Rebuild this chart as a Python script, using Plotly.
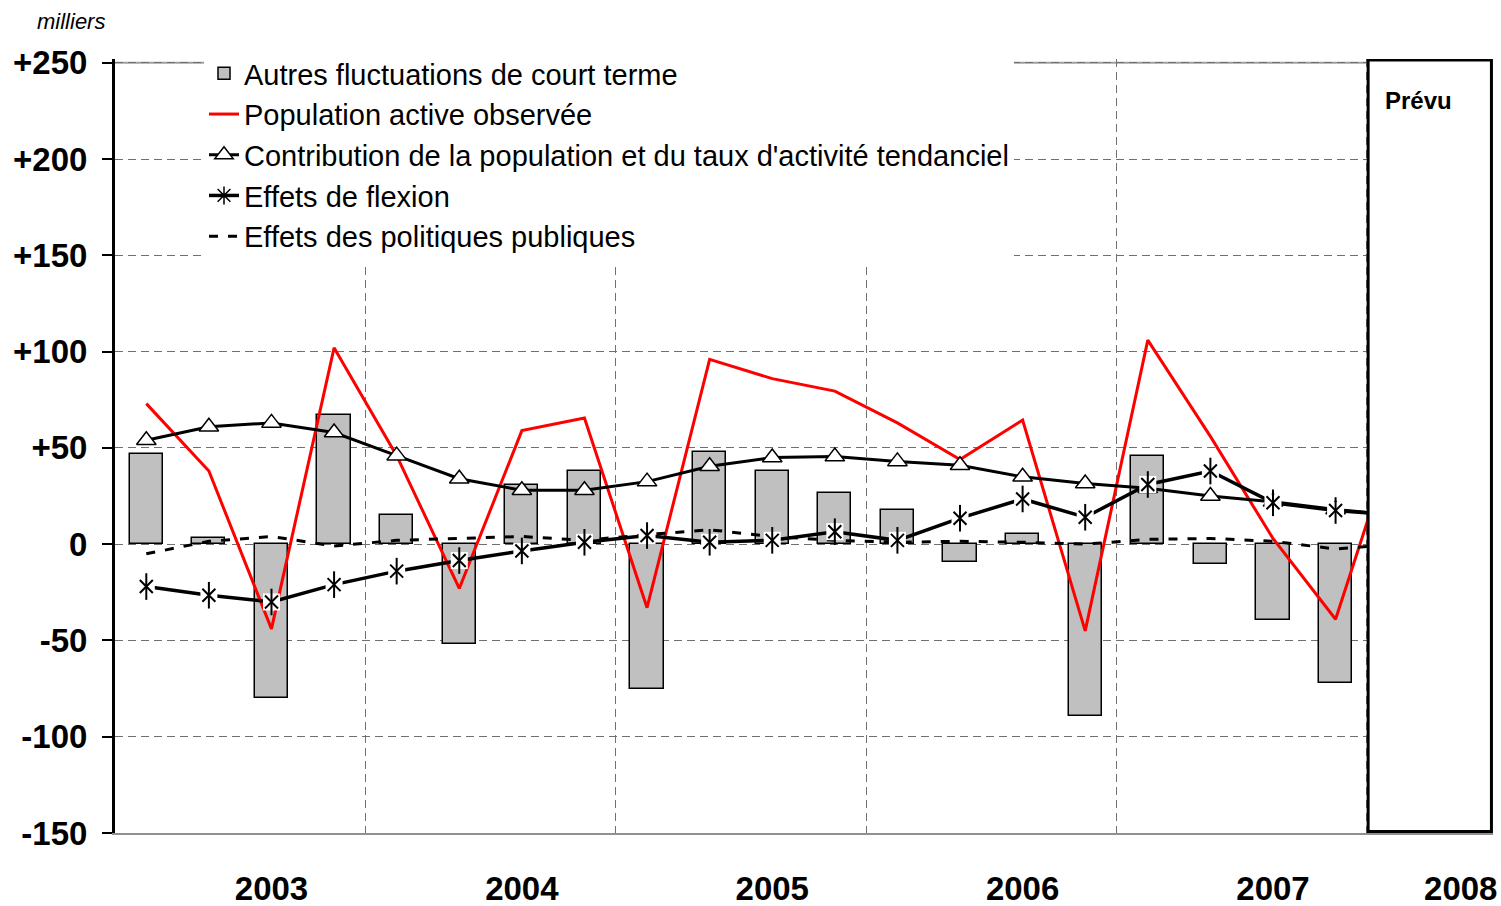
import plotly.graph_objects as go

quarters = ["2003T1", "2003T2", "2003T3", "2003T4",
            "2004T1", "2004T2", "2004T3", "2004T4",
            "2005T1", "2005T2", "2005T3", "2005T4",
            "2006T1", "2006T2", "2006T3", "2006T4",
            "2007T1", "2007T2", "2007T3", "2007T4",
            "2008T1"]

autres = [47, 3, -80, 67, 15, -52, 31, 38, -75, 48, 38, 26.5, 18, -9.5, 5.5, -89,
          46, -10.5, -39.5, -72, None]
observee = [73, 38, -44, 102, 46, -23, 59, 65.5, -33, 96, 86, 79.5, 63, 44, 64.5, -45,
            106, 56, 3, -39, 61]
contribution = [54, 61, 63, 58, 46, 34, 28, 28, 32.5, 40.5, 45, 45.5, 43, 41, 35, 31.5,
                29, 25, 22, 18, 15]
flexion = [-22, -26.5, -30, -21, -14, -8.5, -3.5, 1, 4.5, 1, 2, 6.5, 2, 13.5, 23.5, 14,
           31, 38, 21.5, 17.5, 15]
politiques = [-5, 1.5, 4, -1, 2, 3, 4, 2, 5, 7.5, 4, 2, 1, 1.5, 1, 0, 2.5, 3, 1.5, -2.5, 0]

year_labels = ["2003", "2004", "2005", "2006", "2007", "2008"]
year_label_pos = [2, 6, 10, 14, 18, 21]
y_ticks = [-150, -100, -50, 0, 50, 100, 150, 200, 250]
y_ticktext = ["-150", "-100", "-50", "0", "+50", "+100", "+150", "+200", "+250"]

x = list(range(len(quarters)))
FONT = "Liberation Sans, Arial, sans-serif"

W, H = 1501, 906
ML, MR, MT, MB = 115, 8, 59, 73
plot_w = W - ML - MR
plot_h = H - MT - MB
bottom = H - MB

fig = go.Figure()

fig.add_trace(go.Bar(
    x=x, y=autres, name="Autres fluctuations de court terme",
    marker=dict(color="#C0C0C0", line=dict(color="black", width=1.5)),
    width=0.53, legendrank=1, customdata=quarters))

fig.add_trace(go.Scatter(
    x=x, y=observee, mode="lines", name="Population active observée",
    line=dict(color="#FF0000", width=3), legendrank=2))

fig.add_trace(go.Scatter(
    x=x, y=politiques, mode="lines", name="Effets des politiques publiques",
    line=dict(color="black", width=3, dash="9px,10px"), legendrank=5))

fig.add_trace(go.Scatter(
    x=x, y=contribution, mode="lines+markers",
    name="Contribution de la population et du taux d'activité tendanciel",
    line=dict(color="black", width=3),
    marker=dict(symbol="triangle-up", size=17, color="white",
                line=dict(color="black", width=1.5)),
    legendrank=3))

# flexion: line, white background squares, star made of an x and a vertical bar
fig.add_trace(go.Scatter(
    x=x, y=flexion, mode="lines+markers", showlegend=False,
    line=dict(color="black", width=3.5),
    marker=dict(symbol="square", size=17, color="white", line=dict(width=0))))
fig.add_trace(go.Scatter(
    x=x, y=flexion, mode="markers", showlegend=False,
    marker=dict(symbol="x-thin-open", size=13, color="black",
                line=dict(color="black", width=2))))
fig.add_trace(go.Scatter(
    x=x, y=flexion, mode="markers", showlegend=False,
    marker=dict(symbol="line-ns-open", size=19, color="black",
                line=dict(color="black", width=2))))
fig.add_trace(go.Scatter(
    x=[None], y=[None], mode="lines+markers", name="Effets de flexion",
    line=dict(color="black", width=3.5),
    marker=dict(symbol="asterisk-open", size=15, color="black",
                line=dict(color="black", width=1.5)),
    legendrank=4))

shapes = [
    dict(type="line", xref="x", yref="y", x0=-0.5, x1=19.5, y0=250, y1=250,
         line=dict(color="#A0A0A0", width=2), layer="below"),
    dict(type="rect", xref="x", yref="y", x0=19.52, x1=21.49, y0=-149.2, y1=251.5,
         line=dict(color="black", width=3), fillcolor="white", layer="above"),
]

annotations = [
    dict(text="<i>milliers</i>", xref="paper", yref="paper",
         x=(35 - ML) / plot_w, y=(bottom - 21) / plot_h, xanchor="left", yanchor="middle",
         showarrow=False, font=dict(size=22, color="black", family=FONT)),
    dict(text="<b>Prévu</b>", xref="x", yref="paper",
         x=19.75, y=(bottom - 101) / plot_h, xanchor="left", yanchor="middle",
         showarrow=False, font=dict(size=24, color="black", family=FONT)),
]

fig.update_layout(
    width=W, height=H,
    margin=dict(l=ML, r=MR, t=MT, b=MB, autoexpand=False),
    paper_bgcolor="white", plot_bgcolor="white",
    font=dict(family=FONT, color="black"),
    bargap=0,
    showlegend=True,
    legend=dict(x=(204 - ML) / plot_w, y=(bottom - 48) / plot_h, xanchor="left", yanchor="top",
                bgcolor="white", borderwidth=0, traceorder="normal",
                font=dict(size=29, family=FONT, color="black"),
                tracegroupgap=0),
    shapes=shapes,
    annotations=annotations,
)

fig.update_xaxes(
    range=[-0.5, 21.515], tickmode="array", tickvals=year_label_pos, ticktext=year_labels,
    showgrid=False, zeroline=False, ticks="", showline=True,
    linecolor="#909090", linewidth=2, automargin=False, ticklabeloverflow="allow",
    tickfont=dict(size=33, family=FONT, color="black", weight="bold"),
    ticklabelstandoff=25,
    minor=dict(tick0=3.5, dtick=4, showgrid=True, gridcolor="#707070",
               griddash="8px,5px", gridwidth=1, ticks=""),
)
fig.update_yaxes(
    range=[-150, 252], tickmode="array", tickvals=y_ticks, ticktext=y_ticktext,
    showgrid=True, gridcolor="#707070", griddash="8px,5px", gridwidth=1,
    zeroline=False, showline=True, linecolor="black", linewidth=3, automargin=False,
    ticks="outside", ticklen=10, tickwidth=2, tickcolor="black",
    tickfont=dict(size=33, family=FONT, color="black", weight="bold"),
    ticklabelstandoff=8,
)

fig.write_html("out.html",
               config={"displayModeBar": False},
               post_script="document.body.style.margin='0';document.body.style.overflow='hidden';")
